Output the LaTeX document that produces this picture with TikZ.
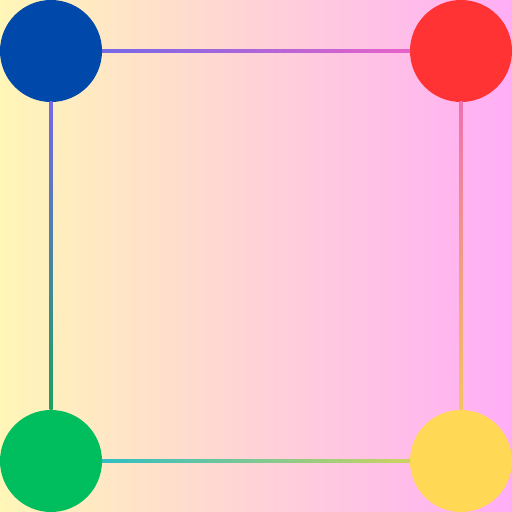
\documentclass[tikz,border=0pt]{standalone}
\usepackage{tikz}
\usepackage{xcolor}
\usetikzlibrary{positioning,calc}
\definecolor{bgleft}{RGB}{255, 246, 184}
\definecolor{bgright}{RGB}{255, 174, 246}
\definecolor{dotblue}{RGB}{0, 72, 170}
\definecolor{dotred}{RGB}{255, 51, 51}
\definecolor{dotgreen}{RGB}{0, 190, 94}
\definecolor{dotyellow}{RGB}{255, 217, 85}
\definecolor{linkviolet}{RGB}{118, 104, 232}
\definecolor{linkpink}{RGB}{232, 98, 200}
\definecolor{linkrose}{RGB}{240, 112, 176}
\definecolor{linkorange}{RGB}{245, 196, 96}
\definecolor{linkteal}{RGB}{48, 190, 196}
\definecolor{linkolive}{RGB}{205, 210, 96}
\definecolor{linkgreen}{RGB}{28, 160, 96}

\begin{document}
\begin{tikzpicture}[
    node distance=6.16cm,
    dot/.style={circle, draw=none, inner sep=0pt, outer sep=0pt, minimum size=2.04cm}
]

% background
\shade[left color=bgleft, right color=bgright] (0,0) rectangle (10.24,10.24);
\useasboundingbox (0,0) rectangle (10.24,10.24);

% corner dots
\node[dot, fill=dotblue] (blue) at (1.02,9.22) {};
\node[dot, fill=dotred, right=of blue] (red) {};
\node[dot, fill=dotgreen, below=of blue] (green) {};
\node[dot, fill=dotyellow, right=of green] (yellow) {};

% shaded links
\shade[left color=linkviolet, right color=linkpink]
    ($(blue.east)+(0,-0.03)$) rectangle ($(red.west)+(0,0.03)$);
\shade[left color=linkteal, right color=linkolive]
    ($(green.east)+(0,-0.03)$) rectangle ($(yellow.west)+(0,0.03)$);
\shade[top color=linkviolet, bottom color=linkgreen]
    ($(blue.south)+(-0.03,0)$) rectangle ($(green.north)+(0.03,0)$);
\shade[top color=linkrose, bottom color=linkorange]
    ($(red.south)+(-0.03,0)$) rectangle ($(yellow.north)+(0.03,0)$);

\end{tikzpicture}
\end{document}
